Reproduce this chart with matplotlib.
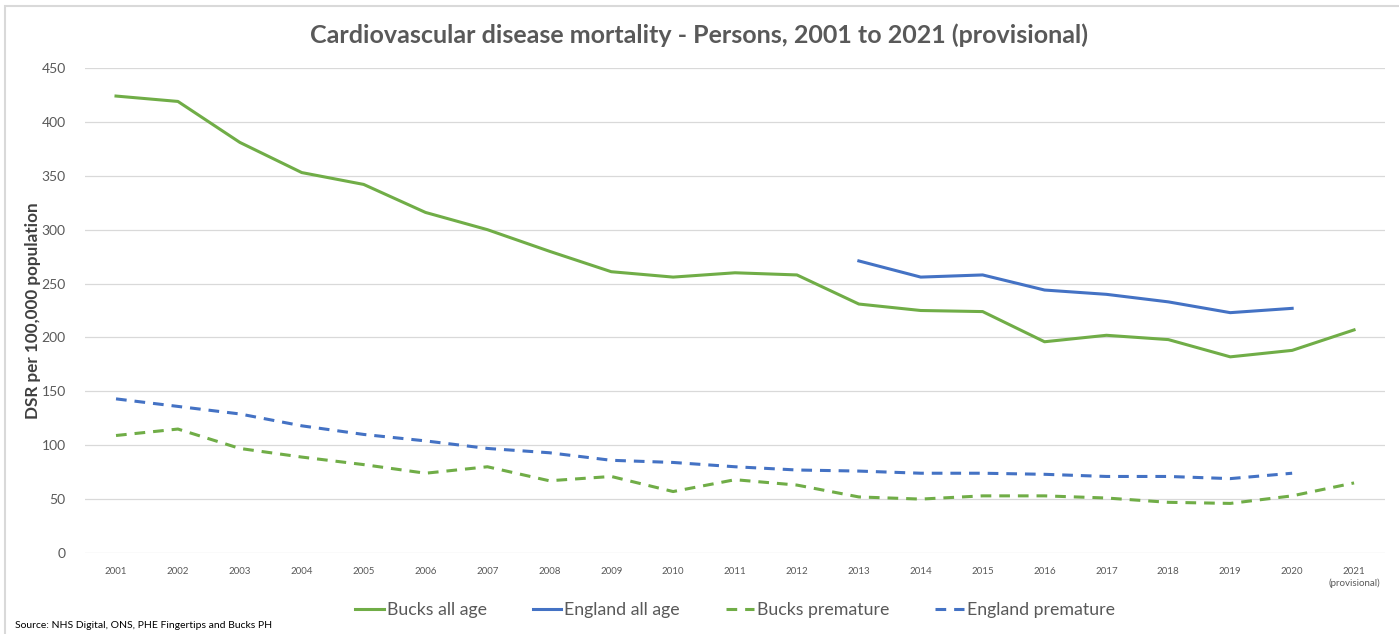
import matplotlib.pyplot as plt
from matplotlib.patches import Rectangle

plt.rcParams['font.family'] = ['Lato', 'DejaVu Sans']

# --- DATA ---
years = ['2001', '2002', '2003', '2004', '2005', '2006', '2007', '2008', '2009', '2010',
         '2011', '2012', '2013', '2014', '2015', '2016', '2017', '2018', '2019', '2020',
         '2021\n(provisional)']
bucks_all = [424, 419, 381, 353, 342, 316, 300, 280, 261, 256,
             260, 258, 231, 225, 224, 196, 202, 198, 182, 188, 207]
england_all = [None] * 12 + [271, 256, 258, 244, 240, 233, 223, 227, None]
bucks_prem = [109, 115, 97, 89, 82, 74, 80, 67, 71, 57,
              68, 63, 52, 50, 53, 53, 51, 47, 46, 53, 65]
england_prem = [143, 136, 129, 118, 110, 104, 97, 93, 86, 84,
                80, 77, 76, 74, 74, 73, 71, 71, 69, 74, None]

GREEN = '#70AD47'
BLUE = '#4472C4'


def clean(vals):
    xs = [i for i, v in enumerate(vals) if v is not None]
    ys = [v for v in vals if v is not None]
    return xs, ys


fig = plt.figure(figsize=(13.99, 6.34), dpi=100)
ax = fig.add_axes([0.0608, 0.1278, 0.9292, 0.7649])

# chart border
fig.patches.append(Rectangle((5 / 1399, -0.1), 1.2, 1 - 6 / 634 + 0.1, transform=fig.transFigure,
                             fill=False, edgecolor='#d9d9d9', linewidth=1.5))

lw = 2.2
ax.plot(*clean(bucks_all), color=GREEN, lw=lw, label='Bucks all age')
ax.plot(*clean(england_all), color=BLUE, lw=lw, label='England all age')
ax.plot(*clean(bucks_prem), color=GREEN, lw=lw, ls=(0, (3.5, 2.6)), label='Bucks premature')
ax.plot(*clean(england_prem), color=BLUE, lw=lw, ls=(0, (3.5, 2.6)), label='England premature')

ax.set_xlim(-0.5, len(years) - 0.5)
ax.set_ylim(0, 450)
ax.set_yticks(range(0, 451, 50))
ax.set_xticks(range(len(years)))
ax.set_xticklabels(years, fontsize=7, color='#595959', va='top', linespacing=1.3)
ax.tick_params(axis='y', labelsize=10, colors='#595959', length=0, pad=14)
ax.tick_params(axis='x', length=0, pad=10)
ax.grid(axis='y', color='#d9d9d9', lw=0.9)
ax.set_axisbelow(True)
for s in ax.spines.values():
    s.set_visible(False)

ax.set_ylabel('DSR per 100,000 population', fontsize=12.3, fontweight='bold', color='#404040', labelpad=0)

fig.text(0.5, 1 - 35 / 634, 'Cardiovascular disease mortality - Persons, 2001 to 2021 (provisional)',
         ha='center', va='center', fontsize=18, fontweight='bold', color='#595959')

ax.legend(loc='center', bbox_to_anchor=(0.5, (610 - 553) / -485), bbox_transform=ax.transAxes,
          ncol=4, frameon=False, fontsize=12.8, handlelength=1.6, columnspacing=2.6,
          handletextpad=0.15, labelcolor='#595959')

fig.text(15 / 1399, 1 - 625 / 634, 'Source: NHS Digital, ONS, PHE Fingertips and Bucks PH',
         ha='left', va='center', fontsize=7.5, color='black')

fig.savefig('out.png', dpi=100)
